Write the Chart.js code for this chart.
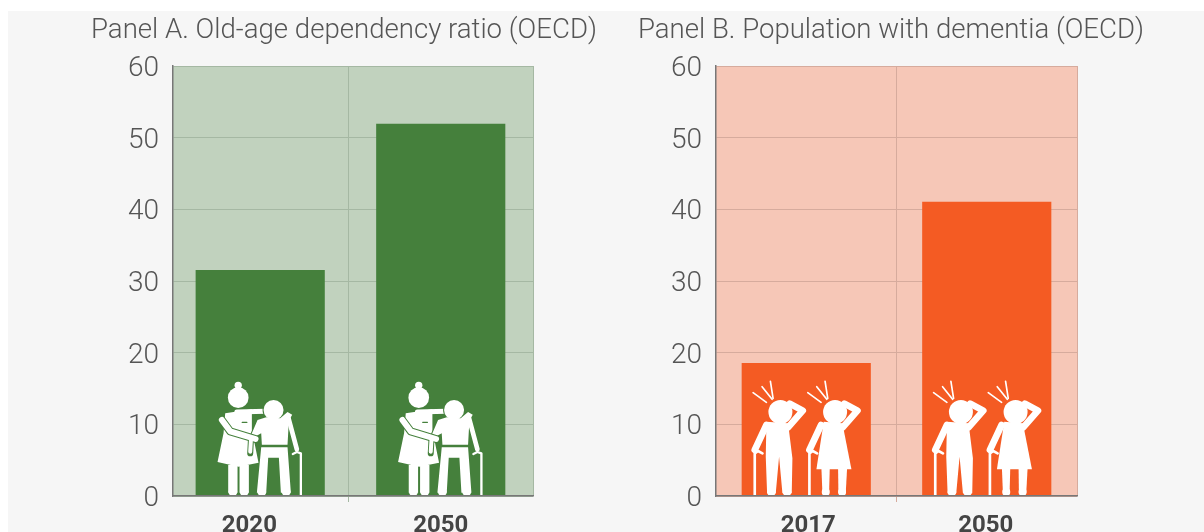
<!DOCTYPE html>
<html><head><meta charset="utf-8">
<script src="https://cdn.jsdelivr.net/npm/chart.js@4"></script>
<style>
html,body{margin:0;padding:0;background:#fff;width:1204px;height:532px;overflow:hidden}
#bg{position:absolute;left:8px;top:11px;right:0;bottom:0;background:#f6f6f6}
.c{position:absolute;top:0;height:532px}
</style></head><body>
<div id="bg"></div>
<div class="c" style="left:91px;width:506px"><canvas id="a"></canvas></div>
<div class="c" style="left:638px;width:506px"><canvas id="b"></canvas></div>
<script>
const categoriesA = ['2020', '2050'];
const valuesA = [31.5, 51.9];
const categoriesB = ['2017', '2050'];
const valuesB = [18.5, 41];
const titleA = 'Panel A. Old-age dependency ratio (OECD)';
const titleB = 'Panel B. Population with dementia (OECD)';

function line(c, pts, w){
  c.lineWidth = w; c.beginPath();
  pts.forEach((p,i)=> i ? c.lineTo(p[0],p[1]) : c.moveTo(p[0],p[1]));
  c.stroke();
}
function fillPoly(c, pts){
  c.beginPath();
  pts.forEach((p,i)=> i ? c.lineTo(p[0],p[1]) : c.moveTo(p[0],p[1]));
  c.closePath(); c.fill();
}
function circle(c,x,y,r){ c.beginPath(); c.arc(x,y,r,0,Math.PI*2); c.fill(); }

function drawCarers(c, bar){
  const W='#fff';
  c.strokeStyle=W; c.fillStyle=W; c.lineCap='round'; c.lineJoin='round';
  // carer body
  circle(c,174,46,11); circle(c,174,83,31);
  fillPoly(c,[[135,130],[215,118],[215,180],[235,278],[175,290],[112,276],[130,190]]);
  fillPoly(c,[[144,285],[172,285],[172,368],[144,368]]); circle(c,158,366,13);
  fillPoly(c,[[178,285],[206,285],[206,368],[178,368]]); circle(c,192,366,13);
  line(c,[[170,126],[255,124]],15);
  // elder, outlined against the carer
  const torso=[[232,150],[258,142],[300,145],[322,126],[336,134],[326,152],[322,224],[245,224],[243,190],[228,198],[214,192]];
  c.fillStyle=bar; c.strokeStyle=bar; c.lineWidth=6;
  c.beginPath(); torso.forEach((p,i)=> i?c.lineTo(p[0],p[1]):c.moveTo(p[0],p[1])); c.closePath(); c.fill(); c.stroke();
  circle(c,280,120,33);
  const legs=[[243,232],[322,232],[332,368],[302,368],[296,263],[264,263],[258,368],[230,368]];
  c.fillStyle=W; c.strokeStyle=W;
  fillPoly(c,torso); circle(c,280,120,30);
  fillPoly(c,legs);
  circle(c,245,366,13); circle(c,318,366,13);
  line(c,[[325,145],[350,238]],14);
  line(c,[[338,252],[350,246],[362,250],[362,376]],7);
  // carer's forearm and pocket
  c.strokeStyle=bar; line(c,[[186,157],[200,157]],4);
  line(c,[[125,150],[150,184],[226,207]],24);
  line(c,[[212,212],[210,250]],18);
  c.strokeStyle=W; line(c,[[125,150],[150,184],[226,207]],18);
  line(c,[[212,212],[210,245]],12);
}
function drawRays(c,dx){
  line(c,[[100+dx,68],[140+dx,97]],5);
  line(c,[[127+dx,50],[157+dx,88]],5);
  line(c,[[152+dx,34],[160+dx,85]],5);
}
function drawDementia(c, bar){
  c.strokeStyle='#fff'; c.fillStyle='#fff'; c.lineCap='round'; c.lineJoin='round';
  // man
  drawRays(c,0);
  circle(c,182,126,36);
  line(c,[[205,172],[249,122],[210,101]],20);
  fillPoly(c,[[140,155],[205,160],[218,265],[216,370],[188,370],[178,260],[168,370],[142,370],[138,260]]);
  circle(c,155,366,13); circle(c,202,366,13);
  line(c,[[140,165],[105,240]],20);
  line(c,[[128,250],[115,243],[105,250],[105,376]],8);
  // woman
  drawRays(c,164);
  circle(c,346,126,36);
  line(c,[[369,172],[413,122],[374,101]],20);
  fillPoly(c,[[312,155],[368,160],[395,298],[290,298]]);
  fillPoly(c,[[305,295],[330,295],[328,370],[308,370]]); circle(c,318,366,12);
  fillPoly(c,[[355,295],[382,295],[378,370],[356,370]]); circle(c,367,366,12);
  line(c,[[304,165],[269,240]],20);
  line(c,[[292,250],[279,243],[269,250],[269,376]],8);
}
function iconPlugin(drawFn, barColor, refX){
  return { id:'icons', afterDatasetsDraw(chart){
    const c = chart.ctx, base = chart.scales.y.getPixelForValue(0);
    chart.getDatasetMeta(0).data.forEach(el=>{
      c.save();
      c.beginPath(); c.rect(el.x-el.width/2, chart.chartArea.top, el.width, base-chart.chartArea.top); c.clip();
      c.translate(el.x, base); c.scale(1/3,1/3); c.translate(-refX,-378);
      drawFn(c, barColor);
      c.restore();
    });
  }};
}
function plotBg(color){
  return { id:'plotBg', beforeDraw(chart){
    const a = chart.chartArea, c = chart.ctx;
    c.save(); c.fillStyle=color; c.fillRect(a.left,a.top,a.right-a.left,a.bottom-a.top); c.restore();
  }};
}
function makeChart(id, cats, vals, title, o){
  new Chart(document.getElementById(id), {
    type:'bar',
    data:{ datasets:[{ data:cats.map((c,i)=>({x:i,y:vals[i]})), backgroundColor:o.bar, barThickness:128.5 }]},
    plugins:[plotBg(o.bg), iconPlugin(o.icon,o.bar,o.refX)],
    options:{
      responsive:false, animation:false, devicePixelRatio:1,
      plugins:{
        legend:{display:false}, tooltip:{enabled:false},
        title:{display:true,text:title,align:'start',color:'#555',
          font:{family:'Roboto',weight:'300',size:27.6,lineHeight:1.2},
          padding:{top:15,bottom:17.9}}
      },
      scales:{
        x:{ type:'linear', offset:false, min:o.min, max:o.max,
          afterFit(s){ s.height=36; },
          afterBuildTicks(s){ s.ticks=[{value:o.lab[0]},{value:o.mid},{value:o.lab[1]},{value:o.max}]; },
          grid:{ offset:false, color:k=>(k.tick&&(k.tick.value===o.mid||k.tick.value===o.max))?o.grid:'rgba(0,0,0,0)',
                 tickColor:k=>(k.tick&&k.tick.value===o.mid)?o.grid:'rgba(0,0,0,0)', tickLength:6, lineWidth:1 },
          border:{display:true,color:'#777',width:1.5,z:1},
          ticks:{ autoSkip:false, maxRotation:0, padding:10, color:'#444',
            font:{family:'Roboto',weight:'700',size:24},
            callback:(v,i)=> i===0?cats[0]:(i===2?cats[1]:'') }
        },
        y:{ min:0,max:60,
          afterFit(s){ s.width=o.axisW; },
          ticks:{stepSize:10,color:'#555',padding:14,labelOffset:3,font:{family:'Roboto',weight:'300',size:28}},
          grid:{color:o.grid,drawTicks:false,lineWidth:1},
          border:{display:true,color:'#777',width:1.5,z:1}
        },
        gutter:{ position:'right', display:true, min:0,max:60,
          afterFit(s){ s.width=o.right; },
          ticks:{display:false}, grid:{display:false}, border:{display:false} }
      }
    }
  });
}
const size=(id,w)=>{const e=document.getElementById(id); e.width=w; e.height=532; e.style.width=w+'px'; e.style.height='532px';};
size('a',506); size('b',506);
makeChart('a',categoriesA,valuesA,titleA,{bar:'#45803c',bg:'#c1d2be',grid:'#a5b8a3',icon:drawCarers,refX:240,
  min:-0.483,max:1.511,mid:0.49,lab:[-0.06,1],right:64,axisW:82});
makeChart('b',categoriesB,valuesB,titleB,{bar:'#f45b23',bg:'#f6c7b7',grid:'#d6ab9d',icon:drawDementia,refX:259.5,
  min:-0.5,max:1.5,mid:0.5,lab:[0.011,0.994],right:67,axisW:78});
</script>
</body></html>
